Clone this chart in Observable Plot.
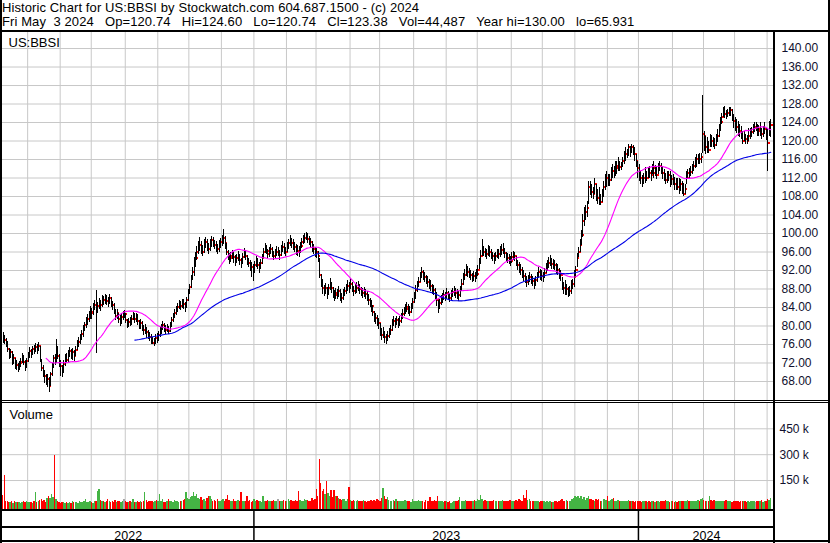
<!DOCTYPE html>
<html><head><meta charset="utf-8">
<script src="https://cdn.jsdelivr.net/npm/d3@7"></script>
<script src="https://cdn.jsdelivr.net/npm/@observablehq/plot@0.6"></script>
<style>
body{margin:0;background:#fff;}
#wrap{position:relative;width:830px;height:543px;overflow:hidden;font-family:"Liberation Sans",Arial,sans-serif;background:#fff;}
.ln{position:absolute;background:#000;z-index:5;}
.hdr{position:absolute;left:2px;font-size:13px;line-height:14px;white-space:pre;color:#000;letter-spacing:0.1px;}
.pane{position:absolute;left:0;}
.pane svg{display:block;}
</style></head><body><div id="wrap"></div>
<script>
// ---------------- data (one value per trading day, from 2022-05-09 to 2024-05-03) -------------
const startDate = [2022, 4, 9];
const close = [
77.5,76.8,76.1,75.0,73.6,74.2,72.0,72.9,71.2,71.5,
70.6,71.8,72.0,73.1,72.2,71.0,72.4,73.6,74.5,73.8,
74.9,74.5,75.4,74.6,75.5,72.5,70.8,69.5,69.0,68.0,
68.4,67.0,69.5,71.2,73.0,72.1,75.0,73.4,72.0,71.2,
70.0,71.6,73.0,72.5,73.8,74.5,73.6,74.2,73.5,74.8,
76.0,76.4,77.5,78.2,79.1,80.0,80.6,81.5,82.0,83.0,
82.6,84.0,84.5,83.0,84.2,85.0,84.4,85.8,85.5,86.0,
85.2,85.0,85.9,84.8,84.5,83.2,82.0,82.6,81.5,81.0,
81.8,82.5,82.5,81.2,80.0,80.8,80.6,81.5,82.3,81.4,
82.0,81.0,80.0,80.6,79.8,79.0,79.4,78.5,78.0,77.6,
77.0,76.2,76.5,77.3,77.0,78.0,78.8,79.5,80.1,79.4,
79.0,79.6,78.9,80.0,81.1,82.0,82.8,83.5,84.0,84.7,
84.2,85.0,84.6,84.0,85.6,87.0,88.3,90.0,91.5,93.0,
94.6,96.0,96.8,97.5,97.0,96.0,97.2,98.0,97.4,96.5,
97.6,98.5,98.0,97.5,97.0,96.5,97.3,98.0,98.4,99.0,
97.8,96.0,95.2,94.5,95.0,95.5,94.8,94.0,94.6,95.0,
94.2,93.5,94.8,96.0,95.1,94.0,93.6,93.0,92.6,92.0,
93.0,94.0,93.1,92.5,93.6,94.5,95.8,97.0,96.2,95.5,
96.0,96.5,95.8,95.0,95.6,96.0,96.0,95.2,96.4,97.0,
96.6,96.0,97.2,97.8,98.5,97.8,97.6,97.0,96.5,96.2,
96.0,97.1,98.0,98.6,99.0,99.5,98.8,98.4,98.0,97.2,
96.5,96.0,95.8,95.0,91.0,89.5,88.0,87.6,88.2,87.0,
88.0,89.0,88.0,87.2,86.5,87.0,86.8,87.5,86.5,86.0,
86.8,87.4,88.0,88.6,88.2,89.0,88.3,87.5,88.0,88.2,
88.5,87.9,87.5,87.0,87.4,86.8,86.5,85.5,85.0,84.2,
83.0,82.0,81.6,81.0,80.5,79.0,78.0,78.6,77.5,77.0,
77.8,78.5,79.0,80.2,81.0,80.4,81.2,80.5,81.0,81.8,
82.5,83.1,83.6,84.0,83.5,83.0,83.8,85.0,86.0,87.6,
88.5,89.5,90.6,91.5,90.8,90.5,90.0,89.4,88.9,88.5,
88.0,87.6,87.0,85.5,84.0,84.8,85.6,86.0,86.6,86.3,
87.0,86.5,86.0,86.6,87.2,87.5,87.0,86.8,86.5,87.6,
89.0,90.2,91.0,92.0,91.6,91.3,91.0,90.4,90.8,90.5,
91.2,92.0,93.5,95.0,96.5,96.0,95.8,95.5,96.2,96.0,
95.4,95.0,94.5,95.1,95.6,95.5,96.0,96.4,96.5,95.7,
95.0,94.6,94.4,94.0,94.8,95.2,95.0,94.0,93.0,92.6,
92.0,91.5,90.8,90.2,89.5,90.0,90.5,90.0,89.6,89.0,
89.8,90.6,91.5,91.0,90.8,90.5,91.4,92.5,93.0,93.6,
94.0,93.4,93.5,93.0,92.4,92.0,91.2,91.0,88.5,88.0,
87.5,87.8,87.0,87.4,88.0,89.0,90.5,92.0,94.5,96.0,
97.5,99.5,102.5,104.0,104.6,105.5,110.0,109.5,108.8,108.5,
110.5,108.0,107.5,107.0,106.8,108.5,110.0,111.0,112.0,111.0,
111.5,113.0,113.5,113.2,114.0,114.5,115.0,114.2,114.5,115.5,
116.5,117.0,117.4,118.5,117.5,118.5,117.8,117.0,115.5,114.0,
113.0,112.0,111.0,111.8,112.5,112.0,113.5,113.0,112.5,114.0,
113.0,113.6,112.5,114.0,114.5,113.8,113.0,112.5,111.5,112.0,
112.5,111.0,111.6,111.5,110.5,110.8,110.0,109.5,110.5,109.0,
108.5,109.5,112.0,113.0,112.5,113.2,114.0,114.5,115.2,116.0,
116.5,116.0,116.4,121.5,121.0,118.5,118.8,118.0,120.5,120.0,
119.5,119.0,120.0,121.0,122.5,124.0,125.0,126.5,125.8,125.5,
126.0,126.4,126.5,125.0,124.2,123.5,123.0,122.4,122.0,121.5,
120.0,121.0,120.4,120.0,121.0,121.5,121.8,122.5,123.0,123.0,
122.4,122.0,122.5,121.5,122.0,122.5,121.5,119.5,121.8,123.38];
const high = [
78.6,78.0,77.4,76.6,75.2,75.0,74.4,73.8,73.0,72.6,
71.9,72.4,73.0,74.0,73.6,72.5,73.0,74.3,75.4,75.0,
75.6,75.8,76.2,75.9,76.4,75.6,72.8,71.5,70.4,69.6,
69.5,68.8,70.0,71.8,73.6,73.9,77.0,75.6,73.8,72.5,
71.4,72.5,73.8,74.1,74.6,75.4,75.0,75.1,74.8,75.6,
76.8,77.6,78.2,79.0,80.0,80.8,81.8,82.4,83.1,84.3,
83.8,84.8,85.6,87.6,85.0,86.0,85.6,86.5,86.4,86.8,
86.5,86.2,86.8,86.2,85.4,84.8,83.5,83.6,82.8,82.2,
82.6,83.2,83.4,82.8,81.5,81.6,81.8,82.2,83.0,82.6,
82.8,82.4,81.2,81.5,80.9,80.2,80.3,79.6,79.1,78.6,
78.2,77.5,77.4,78.1,78.4,78.8,79.6,80.4,81.0,80.6,
80.0,80.4,79.9,80.8,81.9,82.8,83.6,84.2,84.9,85.6,
85.4,85.8,85.7,85.0,86.2,87.8,89.0,91.0,92.6,94.8,
96.0,97.2,98.2,99.2,98.3,97.4,98.6,99.2,98.6,97.8,
98.8,99.4,99.2,98.5,98.2,97.6,98.4,99.0,99.6,100.8,
99.4,97.8,96.4,95.6,96.0,96.4,96.0,95.2,95.5,96.1,
95.4,94.6,95.6,96.8,96.4,95.2,94.6,94.2,93.8,93.2,
94.0,95.0,94.6,93.8,94.4,95.4,96.8,97.9,97.5,96.6,
97.0,97.6,97.0,96.2,96.5,97.1,97.0,96.4,97.3,98.2,
97.8,97.0,98.0,98.8,99.6,99.0,98.6,98.1,97.6,97.3,
97.1,98.0,98.9,99.6,100.0,100.3,99.9,99.4,98.9,98.2,
97.6,97.0,96.8,96.2,94.5,91.2,90.0,88.8,89.2,88.4,
89.0,90.2,89.4,88.4,87.6,88.0,87.9,88.6,87.8,87.0,
87.8,88.3,89.0,89.8,89.4,90.2,89.5,88.6,89.0,89.4,
89.6,89.0,88.4,88.2,88.3,87.9,87.5,86.8,86.0,85.5,
84.4,83.2,82.8,82.2,81.6,80.6,79.4,79.6,78.9,78.2,
78.8,79.4,80.2,81.3,82.0,81.6,82.0,81.6,82.0,82.8,
83.6,84.0,84.6,85.1,84.7,84.2,84.8,86.0,87.2,88.8,
89.6,90.4,91.6,92.6,92.0,91.6,91.0,90.6,90.0,89.8,
89.0,88.8,88.0,87.2,85.6,85.8,86.5,87.0,87.6,87.2,
88.0,87.5,87.1,87.6,88.1,88.6,88.2,87.8,87.5,88.6,
90.0,91.4,92.2,93.2,92.8,92.4,92.0,91.4,91.8,91.6,
92.2,93.0,94.5,96.4,98.8,97.2,96.8,96.6,97.3,97.1,
96.6,96.0,95.6,96.0,96.6,96.5,97.1,97.6,97.8,96.8,
96.0,95.6,95.5,95.0,95.8,96.2,96.0,95.1,94.1,93.8,
93.2,92.6,91.9,91.3,90.6,91.0,91.6,91.1,90.6,90.2,
90.8,91.6,92.6,92.2,91.9,91.6,92.4,93.6,94.2,94.8,
95.2,94.6,94.4,94.1,93.6,93.2,92.4,92.0,90.5,89.4,
89.8,88.9,88.4,88.6,89.8,90.0,92.0,92.8,95.6,97.0,
98.6,100.6,104.2,105.6,106.0,107.0,111.3,111.3,110.6,110.0,
112.0,110.6,109.6,109.9,108.4,109.6,111.3,112.7,113.5,112.7,
112.8,114.2,114.9,114.5,115.6,115.6,116.4,115.6,115.4,116.4,
117.8,118.5,118.2,119.2,118.9,119.2,119.0,118.5,117.1,115.6,
114.9,113.5,112.6,113.0,114.2,113.5,114.2,114.4,113.6,114.9,
115.6,114.6,114.2,115.2,115.6,115.2,114.4,113.8,113.0,113.4,
113.5,113.5,112.6,112.8,112.2,112.0,112.0,111.8,111.6,111.3,
110.9,110.6,113.5,113.8,114.0,114.4,114.9,115.6,116.4,117.1,
117.1,117.4,117.2,129.9,122.1,121.0,120.7,119.9,121.4,121.2,
120.8,120.5,121.4,122.4,123.5,125.0,126.0,127.2,127.5,126.6,
126.8,127.3,127.2,126.8,125.7,125.0,124.6,124.3,123.5,123.2,
122.1,122.1,121.4,121.2,122.8,122.6,123.0,123.5,123.9,123.9,
123.5,123.4,123.9,122.8,123.2,124.0,122.8,122.8,124.3,124.6];
const low = [
76.2,75.9,75.3,74.2,72.8,72.9,71.4,71.6,70.5,70.3,
69.9,70.4,71.0,71.8,71.5,70.2,70.8,72.1,73.0,72.9,
73.6,73.9,74.2,73.8,74.4,72.0,70.2,68.8,67.6,67.2,
66.8,65.6,66.9,69.0,70.9,71.5,71.8,72.8,71.0,69.0,
68.9,69.8,71.2,71.9,72.0,73.2,72.8,72.6,72.3,73.3,
74.6,75.3,76.0,76.9,77.6,78.8,79.4,80.2,80.8,81.4,
81.5,82.2,83.4,74.0,82.8,83.6,83.2,84.0,84.4,84.6,
84.5,84.1,84.6,84.0,83.3,82.4,81.2,81.4,80.6,79.8,
80.4,81.2,81.6,80.5,79.4,79.6,79.8,80.2,81.1,80.6,
80.8,80.2,79.2,79.3,78.8,77.9,78.2,77.4,77.0,76.6,
76.0,75.9,75.5,76.1,76.3,76.6,77.6,78.2,79.0,78.6,
78.1,78.5,78.2,78.7,79.6,80.8,81.6,82.3,83.0,83.5,
83.3,83.8,83.6,83.0,83.8,85.2,86.8,88.0,89.8,90.8,
92.6,94.2,95.5,96.2,95.4,95.0,95.6,96.8,96.2,95.4,
96.2,97.0,97.0,96.6,96.0,95.4,96.0,96.8,97.2,97.6,
96.6,95.2,94.2,93.4,93.8,94.4,93.6,92.8,93.5,93.9,
93.1,92.4,93.2,94.6,94.2,93.1,92.6,91.8,90.4,89.6,
91.4,92.6,92.2,91.4,92.2,93.4,94.5,95.6,95.4,94.6,
94.9,95.4,94.8,94.2,94.4,95.1,95.0,94.2,95.0,96.0,
95.5,95.0,95.8,96.5,97.2,96.8,96.4,96.0,95.2,95.0,
94.8,95.6,96.8,97.6,97.8,98.4,97.8,97.3,96.8,96.0,
95.4,94.8,94.6,93.8,90.2,88.4,86.9,86.4,86.8,85.8,
86.6,87.6,87.0,86.0,85.2,85.8,85.8,86.2,85.4,84.8,
85.6,86.4,86.9,87.5,87.1,87.8,87.2,86.4,86.9,87.0,
87.4,86.8,86.3,85.9,86.2,85.7,85.3,84.4,83.9,83.0,
82.0,80.8,80.4,79.8,79.2,77.8,76.8,77.2,76.2,76.0,
76.6,77.4,77.9,78.8,79.8,79.4,80.0,79.4,79.8,80.6,
81.4,82.0,82.5,83.0,82.5,82.0,82.6,83.6,84.8,85.8,
87.2,88.3,89.4,90.2,89.8,89.4,88.9,88.4,87.8,87.4,
86.9,86.5,85.8,84.3,82.6,83.6,84.5,84.9,85.5,85.2,
85.8,85.5,85.0,85.4,86.2,86.4,86.0,85.7,85.4,86.2,
87.5,88.8,89.8,90.6,90.4,90.2,89.9,89.3,89.7,89.4,
90.0,90.8,92.2,93.4,95.0,95.0,94.8,94.4,95.0,94.9,
94.3,93.9,93.4,94.0,94.5,94.4,94.9,95.3,95.4,94.6,
94.0,93.5,93.3,92.8,93.6,94.1,93.9,92.9,91.9,91.4,
90.9,90.3,89.6,89.1,88.4,88.8,89.4,88.9,88.5,87.9,
88.6,89.4,90.3,89.9,89.7,89.4,90.2,91.3,91.8,92.4,
92.8,92.2,92.3,91.9,91.2,90.9,90.0,89.6,87.6,86.8,
86.6,86.5,86.2,86.4,86.9,87.8,88.4,90.5,92.7,94.8,
96.0,97.4,99.2,101.5,102.8,103.5,106.3,108.2,107.6,107.4,
108.5,107.0,106.3,106.0,106.1,106.6,107.8,109.2,109.9,110.2,
110.2,111.3,112.0,112.0,112.4,112.7,113.5,113.4,113.6,114.2,
114.9,115.6,116.2,116.7,116.4,117.4,116.8,115.6,114.2,112.0,
111.3,110.6,109.9,110.6,110.9,111.3,112.0,112.0,111.3,112.7,
112.0,112.4,111.6,112.7,113.5,112.7,111.6,111.3,110.6,110.9,
111.3,109.9,110.3,110.4,109.2,109.4,109.2,108.5,109.1,108.5,
108.1,108.4,110.6,112.0,111.6,112.4,112.7,113.5,114.0,114.2,
114.9,115.0,115.2,117.4,117.8,117.1,117.4,117.4,118.5,118.6,
118.5,118.2,118.9,119.6,120.7,122.1,123.5,125.0,124.8,124.6,
125.0,125.4,125.4,124.3,122.8,122.1,121.6,121.0,120.7,120.4,
119.2,119.9,119.2,119.2,119.9,120.3,120.7,121.4,121.8,122.1,
121.0,121.0,121.0,120.4,120.8,121.4,120.2,113.5,121.0,120.74];
// volume, thousands of shares
const volume = [
65,180,30,28,25,22,30,18,26,20,
24,22,18,20,26,22,30,25,20,24,
18,26,83,22,28,35,40,30,32,25,
48,58,45,69,50,295,42,30,22,18,
24,20,18,22,16,20,18,26,22,20,
24,18,30,22,20,26,42,24,20,30,
22,18,26,30,89,100,35,28,30,24,
26,40,28,22,30,25,35,20,30,26,
22,28,42,30,24,20,30,25,38,22,
20,26,22,30,24,28,83,35,22,30,
26,30,22,28,35,26,69,30,40,25,
22,30,42,26,30,24,35,28,30,22,
26,30,35,40,83,45,38,50,60,83,
55,69,48,40,52,35,40,30,45,58,
56,38,30,35,28,40,30,26,35,42,
30,38,63,35,30,28,40,26,30,35,
30,83,28,26,30,58,26,35,22,30,
40,28,35,26,30,22,58,30,26,35,
28,30,26,35,28,30,40,26,30,28,
35,26,30,38,28,35,30,26,32,30,
87,35,28,30,40,32,35,30,28,45,
35,40,100,60,272,133,85,100,70,146,
75,60,93,50,93,55,58,45,40,35,
38,42,30,40,107,35,28,32,26,30,
35,28,30,26,32,30,22,28,30,35,
30,35,28,40,35,30,45,104,60,40,
52,35,30,28,35,30,40,26,28,30,
26,30,35,28,26,30,25,40,30,28,
30,35,26,28,30,22,35,30,28,52,
30,26,35,28,58,30,26,28,22,30,
26,22,28,18,20,26,30,28,35,52,
30,28,26,35,30,28,30,26,30,35,
30,40,35,63,40,30,35,28,30,26,
30,28,35,26,30,28,26,30,35,28,
30,26,28,35,30,26,30,35,28,40,
35,30,63,45,93,35,40,30,28,26,
30,26,28,22,26,30,28,20,26,22,
28,20,22,30,26,22,30,35,40,26,
30,35,26,28,30,40,45,58,52,60,
45,58,40,52,35,45,55,40,38,35,
30,40,35,38,30,26,42,40,35,58,
30,35,40,45,30,28,35,30,26,30,
28,30,26,35,28,30,26,22,28,30,
26,30,24,28,30,26,22,28,24,30,
26,22,28,30,24,26,30,28,35,26,
28,24,30,26,22,28,24,30,26,28,
30,26,28,35,30,28,26,30,28,26,
35,30,40,45,35,30,28,30,58,35,
30,35,28,26,30,28,26,30,28,35,
30,26,28,22,30,26,28,30,24,26,
28,30,26,22,28,24,30,26,28,24,
26,30,28,35,24,30,28,40,35,44.487];
const priceTicks = [68,72,76,80,84,88,92,96,100,104,108,112,116,120,124,128,132,136,140];
const volumeTicks = [150,300,450];
const yearLabels = ["2022","2023","2024"];
const maPeriods = [30, 90];
const headerLines = [
  "Historic Chart for US:BBSI by Stockwatch.com 604.687.1500 - (c) 2024",
  "Fri May  3 2024   Op=120.74   Hi=124.60   Lo=120.74   Cl=123.38   Vol=44,487   Year hi=130.00   lo=65.931"
];
const symbolLabel = "US:BBSI";
const volumeLabel = "Volume";

// ---------------- derived -------------
const N = close.length;
const dates = [];
for (let t = Date.UTC(...startDate); dates.length < N; t += 864e5) {
  const wd = new Date(t).getUTCDay();
  if (wd !== 0 && wd !== 6) dates.push(new Date(t));
}
const monthStarts = [], yearStarts = [];
dates.forEach((d, i) => {
  if (i === 0) return;
  if (d.getUTCMonth() !== dates[i-1].getUTCMonth()) monthStarts.push(i);
  if (d.getUTCFullYear() !== dates[i-1].getUTCFullYear()) yearStarts.push(i);
});
const XMAX = 522;
const rows = close.map((c, i) => ({
  i, high: high[i], low: low[i], close: c, volume: volume[i],
  dir: i === 0 ? -1 : Math.sign(c - close[i-1])
}));
function sma(k) {
  const out = [];
  for (let i = k - 1; i < N; i++) out.push({x: i + 0.5, v: d3.mean(close.slice(i - k + 1, i + 1))});
  return out;
}
const maFast = sma(maPeriods[0]), maSlow = sma(maPeriods[1]);
const bounds = [0, ...yearStarts, XMAX];
const yearRows = yearLabels.map((label, k) => ({label, mid: (bounds[k] + bounds[k+1]) / 2}));

const FONT = "'Liberation Sans', Arial, sans-serif";
const GRID = "#c8c8c8";
const AXISCOL = "#10102e";
const wrap = document.getElementById("wrap");

function place(el, top) {
  const d = document.createElement("div");
  d.className = "pane"; d.style.top = top + "px";
  d.appendChild(el); wrap.appendChild(d);
}

// ---------------- price panel -------------
const price = Plot.plot({
  width: 830, height: 369,
  marginLeft: 2, marginRight: 56, marginTop: 0, marginBottom: 0,
  x: {domain: [0, XMAX], axis: null},
  y: {domain: [63.89, 143.68], axis: "right", ticks: priceTicks, tickFormat: d => d.toFixed(2),
      tickSize: 0, tickPadding: 7, label: null},
  style: {fontFamily: FONT, fontSize: "12px", color: AXISCOL, background: "transparent", overflow: "visible"},
  marks: [
    Plot.ruleY(priceTicks, {stroke: GRID}),
    Plot.ruleX(monthStarts, {stroke: GRID}),
    // red close ticks drawn first: the following bars cover part of them, as in a bar-by-bar drawing
    Plot.rect(rows, {x1: d => d.i + 0.85, x2: d => d.i + 2.2, y1: "close", y2: "close",
      insetTop: -1, insetBottom: -1, fill: "#ff0000", shapeRendering: "crispEdges"}),
    Plot.ruleX(rows, {x: d => d.i + 0.5, y1: "low", y2: "high", stroke: "#000", strokeWidth: 1, shapeRendering: "crispEdges"}),
    Plot.line(maFast, {x: "x", y: "v", stroke: "#ff00ff", strokeWidth: 1.1}),
    Plot.line(maSlow, {x: "x", y: "v", stroke: "#0000e6", strokeWidth: 1.1}),
    Plot.text([symbolLabel], {frameAnchor: "top-left", dx: 6, dy: 6, fontSize: 13, fill: "#000"})
  ]
});
place(price, 31);

// ---------------- volume panel -------------
const colors = {"1": "#44b444", "-1": "#ff0000", "0": "#a8a8a8"};
const VMIN = -18;
const vol = Plot.plot({
  width: 830, height: 107,
  marginLeft: 2, marginRight: 56, marginTop: 0, marginBottom: 0,
  x: {domain: [0, XMAX], axis: null},
  y: {domain: [VMIN, 602.6], axis: "right", ticks: volumeTicks, tickFormat: d => d + " k",
      tickSize: 0, tickPadding: 5, label: null},
  style: {fontFamily: FONT, fontSize: "12px", color: AXISCOL, background: "transparent", overflow: "visible"},
  marks: [
    Plot.ruleY(volumeTicks, {stroke: GRID}),
    Plot.ruleX(monthStarts, {stroke: GRID}),
    ...[1, -1, 0].map(s => Plot.rect(rows.filter(r => r.dir === s), {
      x1: d => d.i + 0.05, x2: d => d.i + 1.0, y1: VMIN, y2: "volume",
      fill: colors[s], shapeRendering: "crispEdges"})),
    Plot.text([volumeLabel], {frameAnchor: "top-left", dx: 7, dy: 7, fontSize: 13, fill: "#000"})
  ]
});
place(vol, 402);

// ---------------- date strip -------------
const strip = Plot.plot({
  width: 830, height: 34,
  marginLeft: 2, marginRight: 56, marginTop: 0, marginBottom: 0,
  x: {domain: [0, XMAX], axis: null},
  y: {domain: [0, 34], range: [0, 34], axis: null},
  style: {fontFamily: FONT, fontSize: "12px", color: "#000", background: "transparent", overflow: "visible"},
  marks: [
    Plot.ruleX(yearStarts, {y1: 1, y2: 32, stroke: "#000", strokeWidth: 1.5}),
    Plot.text(yearRows, {x: "mid", y: 26.3, text: "label", fontSize: 12.5, fill: "#000"})
  ]
});
place(strip, 509);

// ---------------- header & frame lines -------------
headerLines.forEach((t, k) => {
  const d = document.createElement("div");
  d.className = "hdr"; d.style.top = (1 + 14 * k) + "px"; d.textContent = t;
  wrap.appendChild(d);
});
const lines = [
  [0, 0, 2, 543], [828, 0, 2, 543], [0, 30, 830, 2], [773, 31, 2, 512],
  [0, 400, 830, 1], [0, 402, 830, 1], [0, 509, 775, 2], [0, 526, 775, 2], [0, 540, 830, 2]
];
lines.forEach(([x, y, w, h]) => {
  const d = document.createElement("div");
  d.className = "ln";
  Object.assign(d.style, {left: x + "px", top: y + "px", width: w + "px", height: h + "px"});
  wrap.appendChild(d);
});
</script></body></html>
